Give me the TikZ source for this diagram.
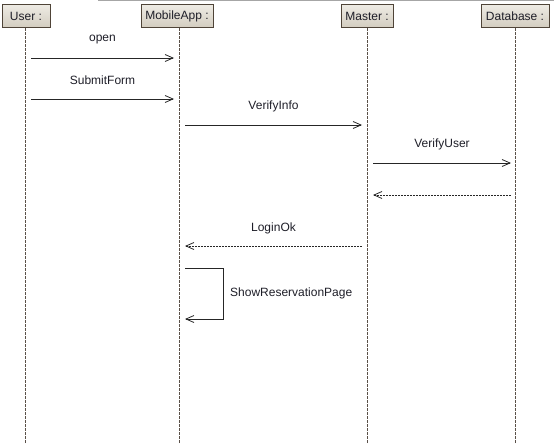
\documentclass[tikz,border=0pt]{standalone}
\usepackage{fontspec}
\setmainfont{Liberation Sans}
\usetikzlibrary{arrows.meta, positioning}
\definecolor{boxtop}{HTML}{EEEBE4}
\definecolor{boxbot}{HTML}{D3CDC0}
\definecolor{boxline}{HTML}{4F4438}
\definecolor{lifeclr}{HTML}{5A5048}
\definecolor{txtclr}{HTML}{1E1E28}
\tikzset{%
	lifebox/.style={
		draw=boxline,
		top color=boxtop,
		bottom color=boxbot,
		minimum height=23pt,
		inner sep=1pt,
		line width=0.9pt,
		text=txtclr
	},
	lifeline/.style={
		draw=lifeclr,
		dash pattern=on 3pt off 1pt
	},
	msg/.style={
		draw=black!85,
		line width=0.8pt,
		-{Straight Barb[length=8pt, width=7pt]}
	},
	reply/.style={
		msg,
		dash pattern=on 2pt off 1pt
	},
	lbl/.style={
		text=txtclr,
		inner sep=0pt
	},
}

\begin{document}
\begin{tikzpicture}[
				x=1pt, y=-1pt,
				font=\fontsize{12}{14}\selectfont
				]
				\useasboundingbox (0,0) rectangle (554,444);
				\draw[gray!70, line width=1.3pt] (98,0.6) -- (554,0.6);
				% heads
				\node[lifebox, minimum width=48pt] (user) at (26,16) {User :};
				\node[lifebox, minimum width=72pt] (app) at (177,16) {MobileApp :};
				\node[lifebox, minimum width=52pt] (master) at (367,16) {Master :};
				\node[lifebox, minimum width=68pt] (db) at (515,16) {Database :};
				% lifelines
				\coordinate (userend) at (25,444);
				\coordinate (append) at (179,444);
				\coordinate (masterend) at (367,444);
				\coordinate (dbend) at (515,444);
				\draw[lifeline] (user.south -| userend) -- (userend);
				\draw[lifeline] (app.south -| append) -- (append);
				\draw[lifeline] (master.south) -- (masterend);
				\draw[lifeline] (db.south) -- (dbend);
				% message ends
				\coordinate (u1) at (31,58);
				\coordinate (a1) at (174,58);
				\coordinate (u2) at (31,99);
				\coordinate (a2) at (174,99);
				\coordinate (a3) at (185,125);
				\coordinate (m3) at (362,125);
				\coordinate (m4) at (373,163);
				\coordinate (d4) at (511,163);
				\coordinate (d5) at (511,195);
				\coordinate (m5) at (373,195);
				\coordinate (m6) at (362,246);
				\coordinate (a6) at (185,246);
				\coordinate (a7) at (185,268);
				\coordinate (s7) at (223,268);
				\coordinate (s8) at (223,319);
				\coordinate (a8) at (185,319);
				% messages
				\draw[msg] (u1) -- node[lbl, midway, yshift=18pt] {open} (a1);
				\draw[msg] (u2) -- node[lbl, midway, yshift=19pt] {SubmitForm} (a2);
				\draw[msg] (a3) -- node[lbl, midway, yshift=19pt] {VerifyInfo} (m3);
				\draw[msg] (m4) -- node[lbl, midway, yshift=19pt] {VerifyUser} (d4);
				\draw[reply] (d5) -- (m5);
				\draw[reply] (m6) -- node[lbl, midway, yshift=18pt] {LoginOk} (a6);
				\draw[msg] (a7) -- (s7) -- (s8) -- (a8);
				\node[lbl, anchor=west] (showlbl) at (230,293) {ShowReservationPage};
				
			\end{tikzpicture}
\end{document}
